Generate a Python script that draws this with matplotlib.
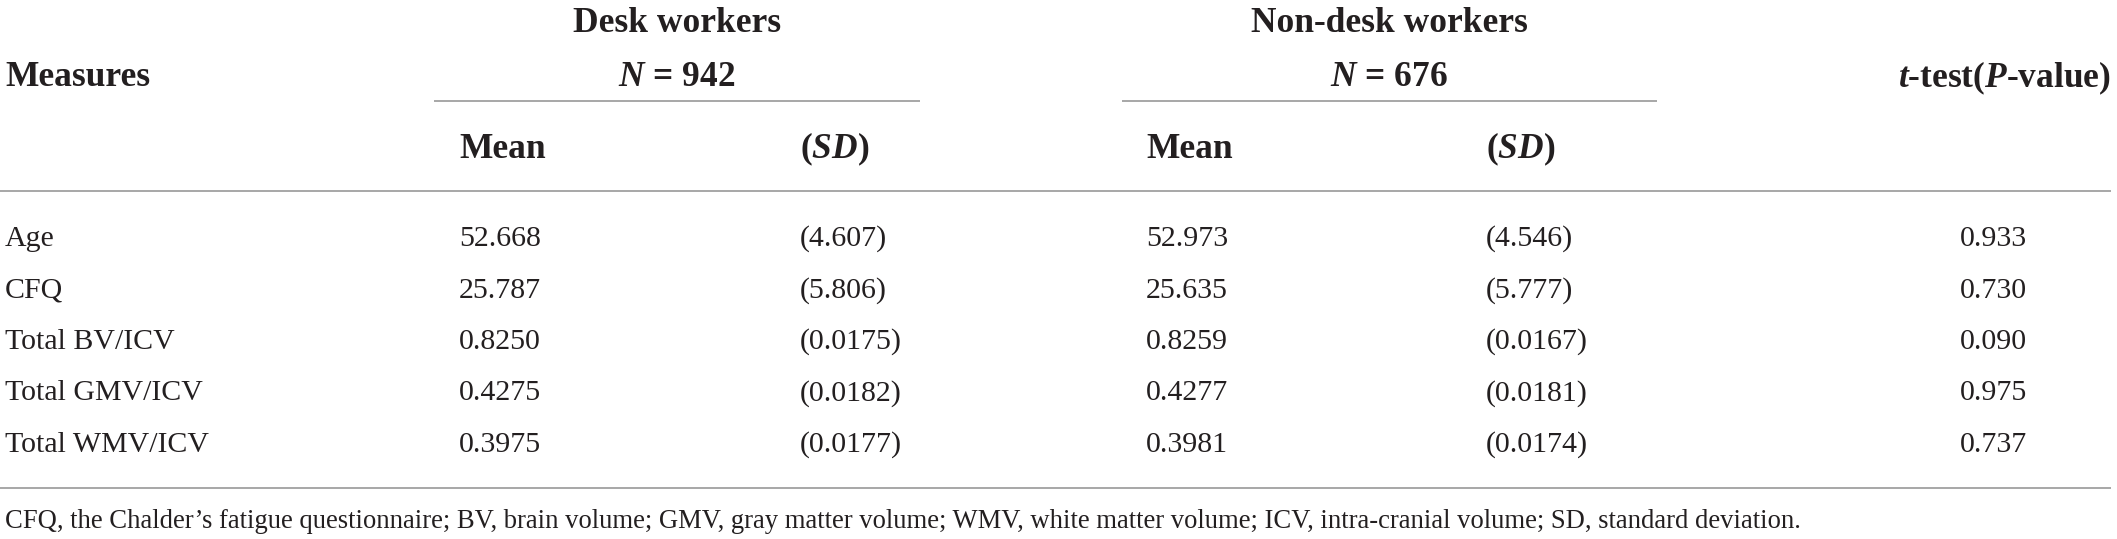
import matplotlib
matplotlib.use("Agg")
import matplotlib.pyplot as plt

measures = ["Age", "CFQ", "Total BV/ICV", "Total GMV/ICV", "Total WMV/ICV"]
desk_mean = ["52.668", "25.787", "0.8250", "0.4275", "0.3975"]
desk_sd = ["(4.607)", "(5.806)", "(0.0175)", "(0.0182)", "(0.0177)"]
nondesk_mean = ["52.973", "25.635", "0.8259", "0.4277", "0.3981"]
nondesk_sd = ["(4.546)", "(5.777)", "(0.0167)", "(0.0181)", "(0.0174)"]
p_values = ["0.933", "0.730", "0.090", "0.975", "0.737"]
footnote = ("CFQ, the Chalder\u2019s fatigue questionnaire; BV, brain volume; GMV, gray matter volume; "
            "WMV, white matter volume; ICV, intra-cranial volume; SD, standard deviation.")

plt.rcParams["font.family"] = ["Liberation Serif", "DejaVu Serif"]
plt.rcParams["mathtext.fontset"] = "custom"
plt.rcParams["mathtext.it"] = "Liberation Serif:italic:bold"
plt.rcParams["mathtext.rm"] = "Liberation Serif:bold"
plt.rcParams["mathtext.bf"] = "Liberation Serif:bold"

W, H = 2117, 539
fig = plt.figure(figsize=(W / 100, H / 100), dpi=100)
ax = fig.add_axes([0, 0, 1, 1])
ax.set_xlim(0, W)
ax.set_ylim(H, 0)
ax.axis("off")

txt = "#231f20"
line_c = "#a0a0a0"
hfs = 25.5
bfs = 21.5
ffs = 19.2

# header
ax.text(5, 78, "Measures", fontsize=hfs, fontweight="bold", color=txt, va="center", ha="left")
ax.text(677, 24, "Desk workers", fontsize=hfs, fontweight="bold", color=txt, va="center", ha="center")
ax.text(677, 78, r"$N$ = 942", fontsize=hfs, fontweight="bold", color=txt, va="center", ha="center")
ax.text(1389, 24, "Non-desk workers", fontsize=hfs, fontweight="bold", color=txt, va="center", ha="center")
ax.text(1389, 78, r"$N$ = 676", fontsize=hfs, fontweight="bold", color=txt, va="center", ha="center")
ax.text(2111, 78, r"$t$-test($P$-value)", fontsize=hfs, fontweight="bold", color=txt, va="center", ha="right")

ax.plot([434, 920], [101, 101], color=line_c, lw=1.3, solid_capstyle="butt")
ax.plot([1122, 1657], [101, 101], color=line_c, lw=1.3, solid_capstyle="butt")

col_x = [459, 800, 1146, 1486]
sub = ["Mean", r"($SD$)", "Mean", r"($SD$)"]
for x, s in zip(col_x, sub):
    ax.text(x, 149, s, fontsize=hfs, fontweight="bold", color=txt, va="center", ha="left")

ax.plot([0, 2111], [191, 191], color=line_c, lw=1.3, solid_capstyle="butt")

row_y0 = 239
row_dy = 51.5
for i, m in enumerate(measures):
    y = row_y0 + i * row_dy
    ax.text(5, y, m, fontsize=bfs, color=txt, va="center", ha="left")
    ax.text(col_x[0], y, desk_mean[i], fontsize=bfs, color=txt, va="center", ha="left")
    ax.text(col_x[1], y, desk_sd[i], fontsize=bfs, color=txt, va="center", ha="left")
    ax.text(col_x[2], y, nondesk_mean[i], fontsize=bfs, color=txt, va="center", ha="left")
    ax.text(col_x[3], y, nondesk_sd[i], fontsize=bfs, color=txt, va="center", ha="left")
    ax.text(2027, y, p_values[i], fontsize=bfs, color=txt, va="center", ha="right")

ax.plot([0, 2111], [488, 488], color=line_c, lw=1.3, solid_capstyle="butt")
ax.text(5, 521, footnote, fontsize=ffs, color=txt, va="center", ha="left")

fig.savefig("out.png", dpi=100, facecolor="white")
